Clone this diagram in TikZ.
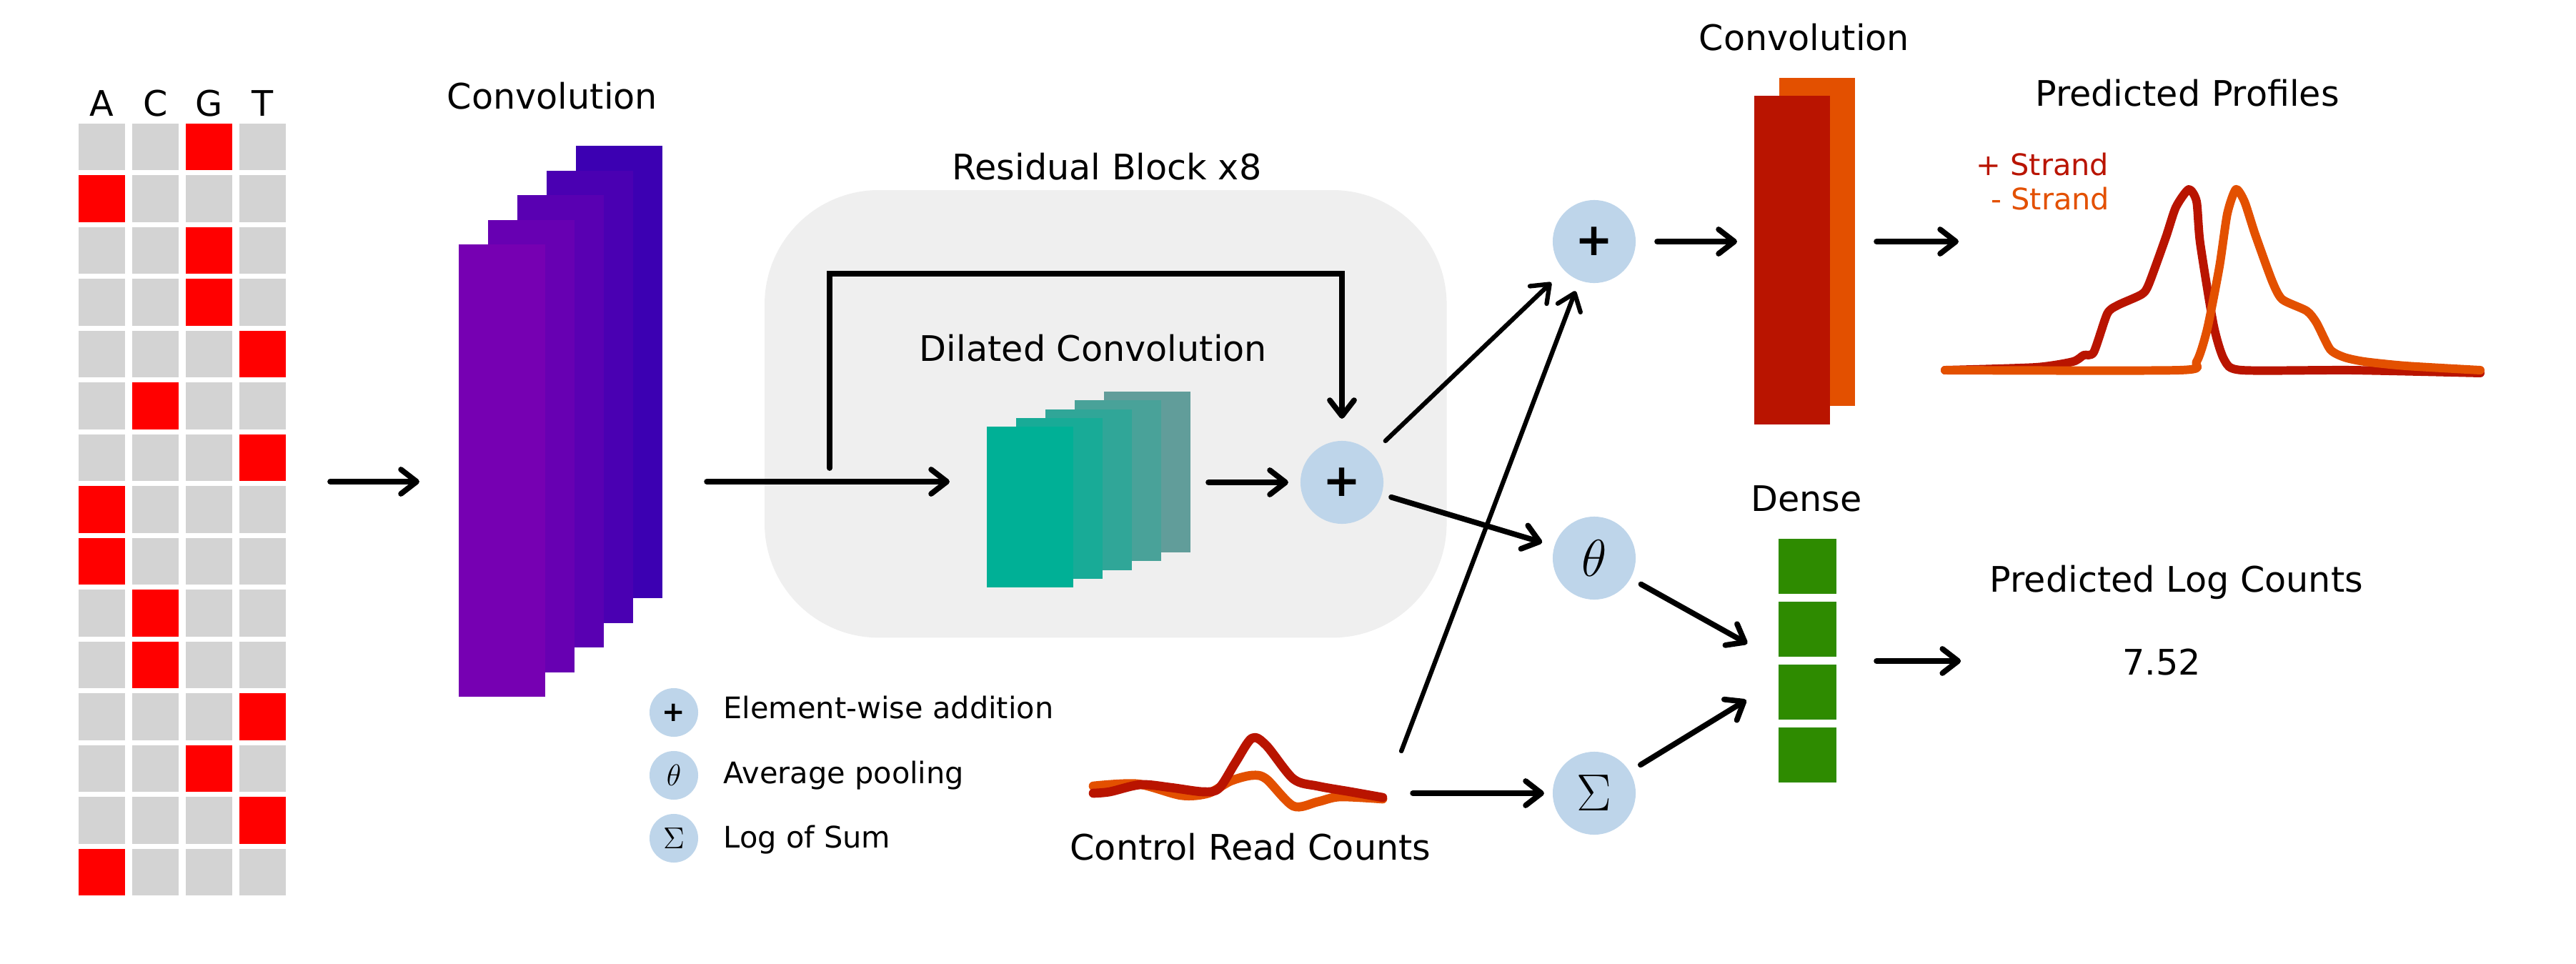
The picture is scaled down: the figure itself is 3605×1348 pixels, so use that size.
\documentclass[tikz,border=0pt]{standalone}
\usepackage{fontspec}
\setmainfont{DejaVu Sans}
\usetikzlibrary{arrows.meta,positioning}

\definecolor{cellgray}{RGB}{211,211,211}
\definecolor{onehot}{RGB}{255,0,0}
\definecolor{convA}{RGB}{118,0,178}
\definecolor{convB}{RGB}{60,0,178}
\definecolor{dilA}{RGB}{0,176,150}
\definecolor{dilB}{RGB}{97,157,154}
\definecolor{opblue}{RGB}{190,213,234}
\definecolor{resgray}{RGB}{239,239,239}
\definecolor{plusred}{RGB}{185,20,0}
\definecolor{minusorange}{RGB}{227,80,0}
\definecolor{densegreen}{RGB}{46,139,0}

\tikzset{
  arr/.style={line width=2.2pt, line cap=round, -{Straight Barb[length=0.22cm,width=0.34cm,round]}},
  arrthin/.style={arr, line width=1.8pt},
  lbl/.style={font=\fontsize{14}{17}\selectfont, inner sep=0pt, anchor=base},
  keytxt/.style={font=\fontsize{11.8}{14}\selectfont, inner sep=0pt, anchor=base west},
  op/.style={circle, fill=opblue, minimum size=1.16cm, inner sep=0pt, outer sep=0pt, font=\fontsize{21}{21}\selectfont},
  keyop/.style={op, minimum size=0.68cm, font=\fontsize{12}{12}\selectfont},
  layer/.style={rectangle, inner sep=0pt, outer sep=0pt, draw=none},
  cell/.style={layer, minimum width=0.65cm, minimum height=0.65cm},
  trace/.style={line width=3.4pt, line cap=round, line join=round},
}

\begin{document}
\begin{tikzpicture}[x=0.01cm, y=-0.01cm]
\useasboundingbox (0,0) rectangle (3605,1348);
\fill[white] (0,0) rectangle (3605,1348);

% one-hot input
\foreach \b [count=\r from 0] in {2,0,2,2,3,1,3,0,0,1,1,3,2,3,0}{
  \foreach \c in {0,...,3}{
    \ifnum\c=\b \def\cellfill{onehot}\else\def\cellfill{cellgray}\fi
    \node[cell, fill=\cellfill] (cell-\r-\c) at ({142.5+75*\c},{205.5+72.5*\r}) {};
  }
}
\foreach \l [count=\c from 0] in {A,C,G,T}
  \node[lbl] (base-\l) at ({142.5+75*\c},162) {\l};

% first convolution
\foreach \i in {4,...,0}{
  \pgfmathtruncatemacro\mix{100-25*\i}
  \node[layer, fill=convA!\mix!convB, minimum width=1.21cm, minimum height=6.33cm, anchor=north west]
    (conv1-\i) at ({642+41*\i},{342-34.5*\i}) {};
}
\node[lbl] (conv1lbl) at (773,152) {Convolution};

% residual block
\node[layer, fill=resgray, rounded corners=1.6cm, minimum width=9.54cm, minimum height=6.26cm, anchor=north west]
  (resblock) at (1070,266) {};
\node[lbl] (reslbl) at (1549,251) {Residual Block x8};
\node[lbl] (dillbl) at (1530,505) {Dilated Convolution};
\foreach \i in {4,...,0}{
  \pgfmathtruncatemacro\mix{100-25*\i}
  \node[layer, fill=dilA!\mix!dilB, minimum width=1.21cm, minimum height=2.25cm, anchor=north west]
    (dil-\i) at ({1381+41*\i},{597-12.25*\i}) {};
}
\node[op] (addA) at (1878,675) {\fontsize{18}{18}\selectfont\bfseries +};

% heads
\node[op] (addB) at (2231,338) {\fontsize{18}{18}\selectfont\bfseries +};
\node[op] (pool) at (2231,781) {$\theta$};
\node[op] (logsum) at (2231,1110) {$\Sigma$};

\node[layer, fill=minusorange, minimum width=1.06cm, minimum height=4.59cm, anchor=north west] (conv2b) at (2490,109) {};
\node[layer, fill=plusred, minimum width=1.06cm, minimum height=4.60cm, anchor=north west] (conv2) at (2455,134) {};
\node[lbl] (conv2lbl) at (2525,70) {Convolution};

\node[layer, minimum width=0.81cm, minimum height=3.42cm] (dense) at (2529.5,925) {};
\foreach \k in {0,...,3}
  \node[layer, fill=densegreen, minimum width=0.81cm, minimum height=0.77cm, anchor=north west] (dense-\k) at (2489,{754+88*\k}) {};
\node[lbl] (denselbl) at (2528,715) {Dense};

% outputs
\node[layer, minimum width=7.30cm, minimum height=2.53cm, anchor=north west] (prof) at (2741,265) {};
\node[lbl] (proflbl) at (3061,148) {Predicted Profiles};
\node[keytxt, anchor=base east, text=plusred] (plusstrand) at (2952,245) {+ Strand};
\node[keytxt, anchor=base east, text=minusorange] (minusstrand) at (2953,293) {- Strand};
\draw[trace, plusred] plot[smooth, tension=0.4] coordinates {(2722,518) (2849,514) (2901,506) (2916,497) (2930,493) (2949,439) (2964,427) (2997,412) (3007,398) (3031,332) (3045,290) (3063,265) (3074,282) (3079,340) (3098,456) (3113,504) (3137,518) (3290,518) (3471,522)};
\draw[trace, minusorange] plot[smooth, tension=0.4] coordinates {(2722,518) (3050,518) (3074,506) (3089,460) (3106,373) (3117,299) (3129,265) (3141,282) (3156,328) (3180,394) (3194,419) (3228,435) (3242,452) (3261,489) (3281,500) (3309,506) (3367,512) (3471,518)};

\node[lbl] (logcount) at (3046,828) {Predicted Log Counts};
\node[lbl] (logvalue) at (3025,944) {7.52};

% control track
\node[layer, minimum width=4.14cm, minimum height=1.01cm] (ctrl) at (1731,1080) {};
\draw[trace, line width=3.6pt, minusorange] plot[smooth, tension=0.5] coordinates {(1530,1100) (1592,1097) (1653,1113) (1691,1110) (1722,1093) (1752,1085) (1772,1090) (1810,1128) (1844,1122) (1875,1115) (1935,1118)};
\draw[trace, line width=3.6pt, plusred] plot[smooth, tension=0.5] coordinates {(1530,1110) (1553,1108) (1596,1098) (1638,1102) (1684,1108) (1706,1103) (1729,1067) (1752,1033) (1772,1043) (1810,1090) (1844,1100) (1890,1108) (1935,1116)};
\node[lbl] (ctrllbl) at (1750,1203) {Control Read Counts};

% legend
\node[keyop] (key-add) at (943,997) {\fontsize{11}{11}\selectfont\bfseries +};
\node[keyop] (key-pool) at (943,1085) {$\theta$};
\node[keyop] (key-sum) at (943,1173) {$\Sigma$};
\node[keytxt] (keytxt-add) at (1012,1005) {Element-wise addition};
\node[keytxt] (keytxt-pool) at (1012,1096) {Average pooling};
\node[keytxt] (keytxt-sum) at (1012,1186) {Log of Sum};

% connectors
\coordinate (lvl) at (0,674);
\coordinate (skip) at (1161,655);
\draw[arr, shorten <=0.62cm, shorten >=0.55cm] (cell-7-3.east |- lvl) -- (conv1-0.west |- lvl);
\draw[arr, shorten <=0.62cm, shorten >=0.52cm] (conv1-4.east |- lvl) -- (dil-0.west |- lvl);
\draw[arr, shorten >=0.31cm] (skip) -- ++(0,-272) -| (addA.north);
\draw[arr, shorten <=0.25cm, shorten >=0.17cm] (dil-4.east |- addA) -- (addA);
\draw[arrthin, shorten <=0.26cm, shorten >=0.25cm] (addA) -- (addB);
\draw[arr, shorten <=0.14cm, shorten >=0.18cm] (addA) -- (pool);
\draw[arrthin, shorten >=0.16cm] ([shift={(23,-29)}]ctrl.east) -- (addB);
\draw[arr, shorten <=0.39cm, shorten >=0.12cm] (ctrl.east |- logsum) -- (logsum);
\draw[arr, shorten <=0.17cm, shorten >=0.5cm] (pool) -- (dense.west);
\draw[arr, shorten <=0.18cm, shorten >=0.53cm] (logsum) -- ([yshift=-0.27cm]dense.west);
\draw[arr, shorten <=0.56cm, shorten >=0.4cm] (dense.east) -- (logcount.west |- dense.east);
\draw[arr, shorten <=0.3cm, shorten >=0.24cm] (addB) -- (conv2.west |- addB);
\draw[arr, shorten <=0.3cm] (conv2b.east |- addB) -- (prof.west |- addB);
\end{tikzpicture}
\end{document}
